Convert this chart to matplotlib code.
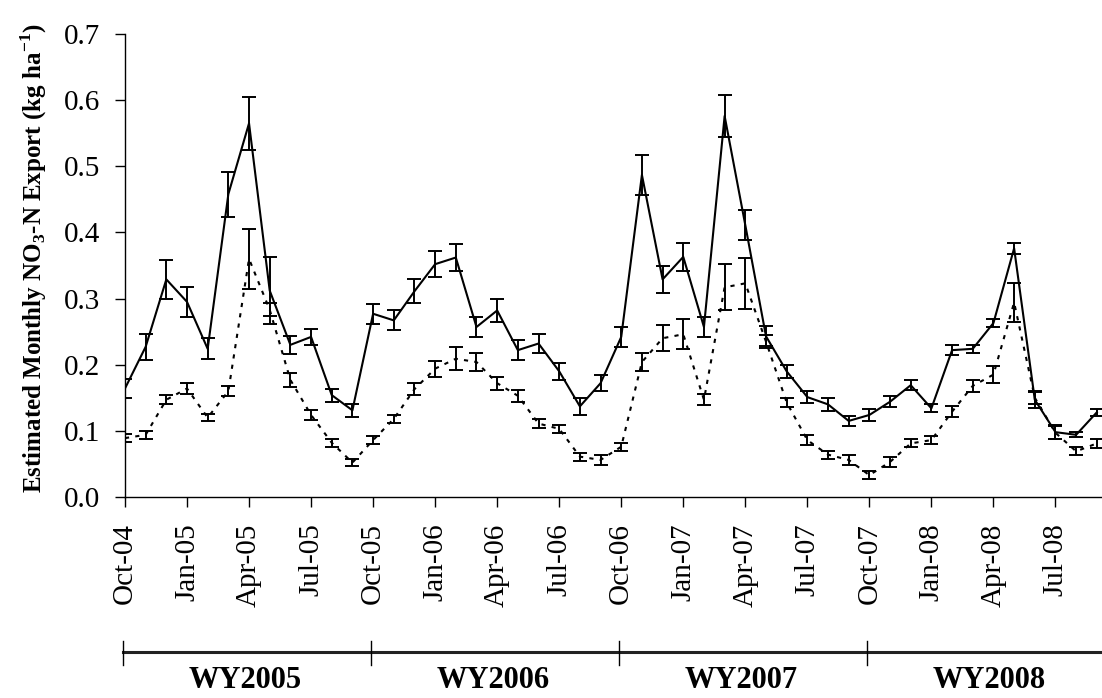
import matplotlib
matplotlib.use("Agg")
import matplotlib.pyplot as plt
import matplotlib.transforms as mtransforms

plt.rcParams['font.family'] = ['Liberation Serif', 'DejaVu Serif']
plt.rcParams['mathtext.fontset'] = 'custom'
plt.rcParams['mathtext.rm'] = 'Liberation Serif'
plt.rcParams['mathtext.bf'] = 'Liberation Serif:bold'

months = ['Oct-04', 'Nov-04', 'Dec-04', 'Jan-05', 'Feb-05', 'Mar-05', 'Apr-05', 'May-05', 'Jun-05', 'Jul-05', 'Aug-05', 'Sep-05',
          'Oct-05', 'Nov-05', 'Dec-05', 'Jan-06', 'Feb-06', 'Mar-06', 'Apr-06', 'May-06', 'Jun-06', 'Jul-06', 'Aug-06', 'Sep-06',
          'Oct-06', 'Nov-06', 'Dec-06', 'Jan-07', 'Feb-07', 'Mar-07', 'Apr-07', 'May-07', 'Jun-07', 'Jul-07', 'Aug-07', 'Sep-07',
          'Oct-07', 'Nov-07', 'Dec-07', 'Jan-08', 'Feb-08', 'Mar-08', 'Apr-08', 'May-08', 'Jun-08', 'Jul-08', 'Aug-08', 'Sep-08']

solid_vals = [0.164, 0.227, 0.329, 0.295, 0.224, 0.458, 0.565, 0.312, 0.230, 0.242, 0.154, 0.131,
              0.277, 0.267, 0.311, 0.352, 0.362, 0.257, 0.282, 0.222, 0.232, 0.190, 0.137, 0.172,
              0.242, 0.487, 0.329, 0.363, 0.257, 0.576, 0.411, 0.243, 0.190, 0.151, 0.140, 0.115,
              0.124, 0.144, 0.169, 0.134, 0.222, 0.224, 0.263, 0.376, 0.147, 0.098, 0.094, 0.128]
solid_err = [0.015, 0.020, 0.029, 0.023, 0.016, 0.034, 0.040, 0.051, 0.014, 0.012, 0.010, 0.010,
             0.015, 0.015, 0.018, 0.020, 0.020, 0.015, 0.018, 0.015, 0.015, 0.013, 0.013, 0.012,
             0.015, 0.030, 0.020, 0.021, 0.015, 0.032, 0.023, 0.015, 0.010, 0.009, 0.010, 0.008,
             0.009, 0.008, 0.008, 0.006, 0.008, 0.006, 0.006, 0.008, 0.012, 0.011, 0.004, 0.005]

dotted_vals = [0.089, 0.094, 0.147, 0.164, 0.120, 0.160, 0.360, 0.283, 0.177, 0.124, 0.082, 0.052,
               0.086, 0.118, 0.163, 0.194, 0.209, 0.204, 0.172, 0.153, 0.111, 0.103, 0.061, 0.056,
               0.076, 0.204, 0.240, 0.246, 0.147, 0.317, 0.323, 0.235, 0.143, 0.086, 0.064, 0.056,
               0.033, 0.053, 0.081, 0.086, 0.129, 0.168, 0.185, 0.294, 0.150, 0.097, 0.069, 0.081]
dotted_err = [0.006, 0.006, 0.007, 0.008, 0.005, 0.008, 0.045, 0.010, 0.011, 0.007, 0.006, 0.005,
              0.006, 0.006, 0.009, 0.012, 0.017, 0.014, 0.010, 0.009, 0.007, 0.006, 0.006, 0.007,
              0.006, 0.014, 0.020, 0.023, 0.008, 0.035, 0.039, 0.010, 0.007, 0.008, 0.006, 0.007,
              0.006, 0.008, 0.006, 0.006, 0.008, 0.009, 0.013, 0.030, 0.010, 0.010, 0.006, 0.007]

water_years = ['WY2005', 'WY2006', 'WY2007', 'WY2008']

fig = plt.figure(figsize=(11.02, 6.98), dpi=100)
ax = fig.add_axes([0.1134, 0.288, 1.0 - 0.1134, 0.9513 - 0.288])

x = list(range(len(months)))
ax.errorbar(x, solid_vals, yerr=solid_err, color='black', lw=1.5, ls='-',
            capsize=5, capthick=1.4, elinewidth=1.4)
ax.errorbar(x, dotted_vals, yerr=dotted_err, color='black', lw=1.5, ls=(0, (2, 3)),
            capsize=5, capthick=1.4, elinewidth=1.4)

ax.set_xlim(0, 47.25)
ax.set_ylim(0, 0.7)
ax.set_yticks([0.0, 0.1, 0.2, 0.3, 0.4, 0.5, 0.6, 0.7])
ax.set_yticklabels(['%.1f' % v for v in [0.0, 0.1, 0.2, 0.3, 0.4, 0.5, 0.6, 0.7]], fontsize=21)
ax.set_xticks(x[::3])
ax.set_xticklabels(months[::3], rotation=90, fontsize=21)
ax.tick_params(axis='both', direction='out', length=7, width=1.0, color='black')
ax.tick_params(axis='x', pad=12)
ax.tick_params(axis='y', pad=11)
for s in ['top', 'right']:
    ax.spines[s].set_visible(False)
for s in ['left', 'bottom']:
    ax.spines[s].set_linewidth(1.0)

ax.set_ylabel(r'Estimated Monthly NO$_\mathbf{3}$-N Export (kg ha$^\mathbf{-1}$)',
              fontsize=18, fontweight='bold')
ax.yaxis.set_label_coords(-0.078, 0.515)

# water-year bracket below the axis
trans = mtransforms.blended_transform_factory(ax.transData, fig.transFigure)
y_line = 1 - 652 / 698
y_lo = 1 - 665 / 698
y_hi = 1 - 641 / 698
ax.plot([-0.1, 47.25], [y_line, y_line], transform=trans, color='#222222', lw=2.2, clip_on=False)
for k in range(4):
    xs = 12 * k - 0.1
    ax.plot([xs, xs], [y_lo, y_hi], transform=trans, color='black', lw=1.0, clip_on=False)
    ax.text(12 * k + 5.8, 1 - 681 / 698, water_years[k], transform=trans, ha='center', va='center',
            fontsize=22, fontweight='bold')

fig.savefig('out.png', dpi=100)
